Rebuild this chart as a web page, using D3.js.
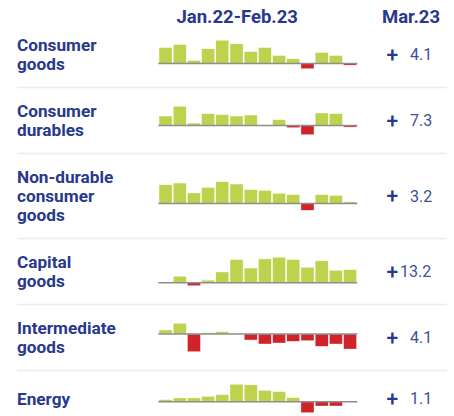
<!DOCTYPE html>
<html>
<head>
<meta charset="utf-8">
<script src="https://cdn.jsdelivr.net/npm/d3@7"></script>
<style>
  body { margin: 0; background: #fff; }
  svg { display: block; font-family: Roboto, "Noto Sans", sans-serif; }
  .titulo { font-weight: 700; fill: #27398c; }
  .rotulo { font-weight: 700; fill: #27398c; }
  .sinal { font-weight: 500; fill: #27398c; }
  .valor { fill: #3d4f9c; }
</style>
</head>
<body>
<svg id="grafico"></svg>
<script>
// meses do período (Jan.22 - Feb.23)
var meses = ["Jan.22","Feb.22","Mar.22","Apr.22","May.22","Jun.22","Jul.22",
             "Aug.22","Sep.22","Oct.22","Nov.22","Dec.22","Jan.23","Feb.23"];

var categorias = ["Consumer goods", "Consumer durables", "Non-durable consumer goods",
                  "Capital goods", "Intermediate goods", "Energy"];
var linhasRotulo = [["Consumer", "goods"], ["Consumer", "durables"],
                    ["Non-durable", "consumer", "goods"], ["Capital", "goods"],
                    ["Intermediate", "goods"], ["Energy"]];

// séries mensais
var consumerGoods     = [1.6, 1.9, 0.3, 1.47, 2.33, 1.97, 1.2, 1.6, 0.8, 0.47, -0.53, 1.1, 0.8, -0.17];
var consumerDurables  = [0.93, 1.9, 0.23, 1.17, 1.07, 0.93, 1.03, 0, 0.57, -0.23, -0.93, 1.23, 1.17, -0.17];
var nonDurable        = [1.9, 2.07, 1.07, 1.63, 2.2, 1.97, 1.4, 1.33, 1.03, 0.9, -0.67, 0.9, 0.83, 0.17];
var capitalGoods      = [0, 0.67, -0.3, 0.27, 1.1, 2.37, 1.5, 2.43, 2.6, 2.37, 1.57, 2.23, 1.27, 1.33];
var intermediateGoods = [0.4, 1.07, -1.77, 0.13, 0.23, 0, -0.6, -1.0, -0.9, -0.73, -0.67, -1.23, -1.0, -1.5];
var energy            = [0.2, 0.37, 0.37, 0.53, 0.7, 1.73, 1.67, 1.13, 1.0, 0.4, -1.1, -0.43, -0.43, 0];

var series = [consumerGoods, consumerDurables, nonDurable, capitalGoods, intermediateGoods, energy];

// valor de Mar.23
var valoresMar23 = [4.1, 7.3, 3.2, 13.2, 4.1, 1.1];

var largura = 454, altura = 416;
var svg = d3.select("#grafico").attr("width", largura).attr("height", altura);

//Títulos das colunas
svg.append("text").classed("titulo", true)
   .attr("x", 176.5).attr("y", 22.7).style("font-size", "18.5px")
   .text("Jan.22-Feb.23");
svg.append("text").classed("titulo", true)
   .attr("x", 382).attr("y", 22.7).style("font-size", "18.5px")
   .text("Mar.23");

//Escala horizontal comum a todas as linhas
var x = d3.scaleBand().domain(meses).range([158.3, 357.3])
          .paddingInner(0.08).paddingOuter(0.05);

var alturaLinha = 19;
var topo = 21.5;

categorias.forEach(function(cat, i) {
    var linhas = linhasRotulo[i];
    var h = Math.max(linhas.length * alturaLinha + 28, 56);
    var centro = topo + h / 2;
    var g = svg.append("g").attr("class", "linha");

    //Rótulo da categoria
    var t = g.append("text").classed("rotulo", true).style("font-size", "17.2px");
    linhas.forEach(function(l, k) {
        t.append("tspan").attr("x", 17)
         .attr("y", centro - (linhas.length - 1) * alturaLinha / 2 + 6 + k * alturaLinha)
         .text(l);
    });

    //Escala vertical própria da linha
    var dados = series[i];
    var y = d3.scaleLinear()
              .domain([Math.min(0, d3.min(dados)), Math.max(0, d3.max(dados))])
              .range([centro + 14.25, centro - 14.25]);

    g.selectAll(".barra").data(dados).enter().append("rect")
     .classed("barra", true)
     .attr("x", (d, j) => x(meses[j]))
     .attr("width", x.bandwidth())
     .attr("y", d => y(Math.max(0, d)))
     .attr("height", d => Math.abs(y(d) - y(0)))
     .attr("fill", d => d >= 0 ? "#bfd24d" : "#d1232a")
     .attr("stroke", "#fff").attr("stroke-width", 0.4);

    g.append("line")
     .attr("x1", 158.3).attr("x2", 357.3)
     .attr("y1", y(0)).attr("y2", y(0))
     .attr("stroke", "#8e8e8e").attr("stroke-width", 1.5);

    //Valor de Mar.23
    var v = valoresMar23[i];
    g.append("text").classed("sinal", true).style("font-size", "21px")
     .attr("x", 386.5).attr("y", centro + 7).text("+");
    var digitos = String(Math.floor(v)).length;
    g.append("text").classed("valor", true).style("font-size", "16px")
     .attr("x", 410 - (digitos - 1) * 10).attr("y", centro + 5.5)
     .text(v.toFixed(1));

    topo += h;
    //Separador
    if (i < categorias.length - 1) {
        svg.append("line")
           .attr("x1", 17).attr("x2", 447)
           .attr("y1", topo).attr("y2", topo)
           .attr("stroke", "#ececec").attr("stroke-width", 1.5);
    }
});
</script>
</body>
</html>
